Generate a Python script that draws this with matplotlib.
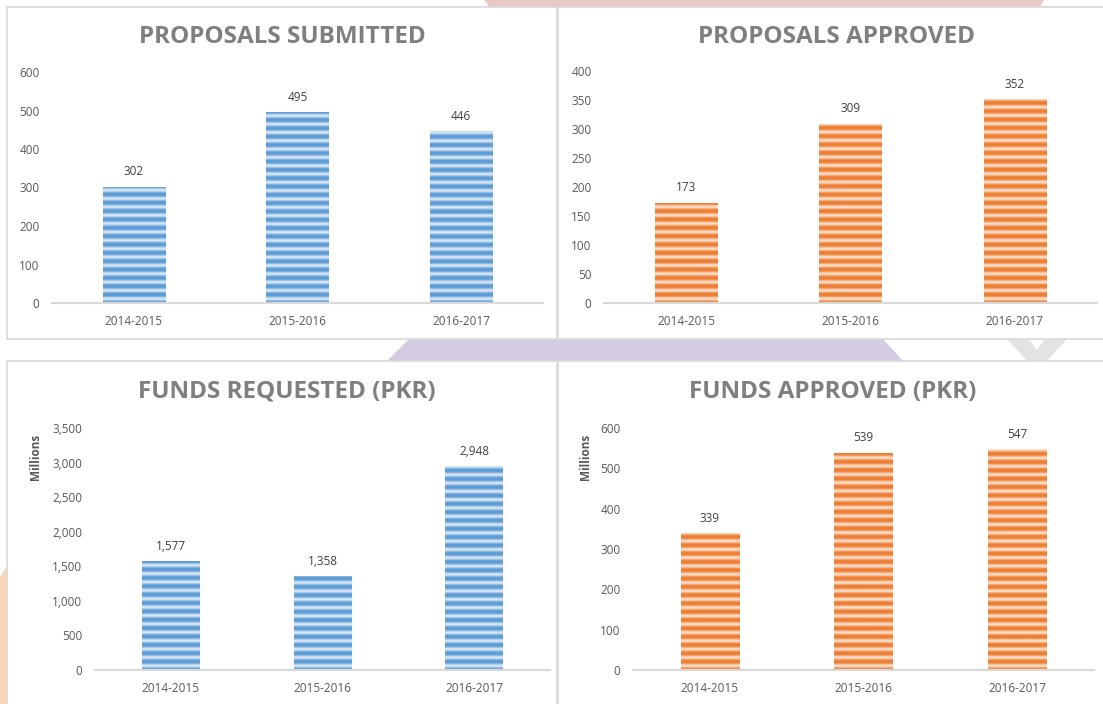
import numpy as np
import matplotlib.pyplot as plt
from matplotlib.colors import to_rgb
from matplotlib.patches import Rectangle, Polygon
from matplotlib.ticker import FuncFormatter, MultipleLocator

years = ['2014-2015', '2015-2016', '2016-2017']
proposals_submitted = [302, 495, 446]
proposals_approved = [173, 309, 352]
funds_requested = [1577, 1358, 2948]   # PKR millions
funds_approved = [339, 539, 547]       # PKR millions

W, H = 1103, 704
fig = plt.figure(figsize=(W / 100, H / 100), dpi=100)
fig.patch.set_facecolor('white')

FONT = ['Open Sans', 'DejaVu Sans']
BLUE = ('#5b9bd5', '#dde9f6')
ORANGE = ('#ed7d31', '#fbe1cf')


def px(x, y):
    # pixel coords (from top-left) -> figure fraction
    return x / W, 1 - y / H


def poly(points, color):
    fig.patches.append(Polygon([px(x, y) for x, y in points], closed=True,
                               transform=fig.transFigure, facecolor=color,
                               edgecolor='none', zorder=-3))


# background decoration peeking between the panels
poly([(484, 0), (1044, 0), (1038, 10), (492, 10)], '#e9c9c8')
poly([(410, 338), (882, 338), (904, 362), (386, 362)], '#d3cce3')
poly([(1006, 338), (1028, 338), (1037, 350), (1046, 338), (1068, 338),
      (1046, 362), (1028, 362)], '#e3e3e3')
poly([(0, 577), (7, 566), (7, 704), (0, 704)], '#f9d6b8')


def panel(x0, y0, x1, y1):
    (fx0, fy1), (fx1, fy0) = px(x0, y0), px(x1, y1)
    fig.patches.append(Rectangle((fx0, fy0), fx1 - fx0, fy1 - fy0,
                                 transform=fig.transFigure, facecolor='white',
                                 edgecolor='#d9d9d9', lw=1.2, zorder=-2))


panel(7, 7, 557, 339)
panel(558, 7, 1110, 339)
panel(7, 361, 557, 712)
panel(558, 361, 1110, 712)


def stripes(ax, bars, colors, period=8.3):
    dark = np.array(to_rgb(colors[0]))
    light = np.array(to_rgb(colors[1]))
    ylo, yhi = ax.get_ylim()
    h_px = ax.get_position().height * H
    rows = int(h_px * 6)
    t = np.arange(rows) / rows * h_px / period
    v = (0.5 - 0.5 * np.cos(2 * np.pi * t)) ** 1.6
    img = dark + (light - dark) * v[:, None]
    img = img[:, None, :]
    for b in bars:
        x0 = b.get_x()
        im = ax.imshow(img, extent=(x0, x0 + b.get_width(), ylo, yhi),
                       origin='lower', aspect='auto', interpolation='bilinear',
                       zorder=3)
        im.set_clip_path(b)


def chart(box, values, ymax, step, colors):
    l, t, r, b = box
    fx0, fy1 = px(l, t)
    fx1, fy0 = px(r, b)
    ax = fig.add_axes([fx0, fy0, fx1 - fx0, fy1 - fy0])
    ax.patch.set_visible(False)
    x = np.arange(len(years))
    bars = ax.bar(x, values, width=0.38, color=colors[0], zorder=2)
    ax.set_xlim(-0.5, len(years) - 0.5)
    ax.set_ylim(0, ymax)
    stripes(ax, bars, colors)
    ax.set_xlim(-0.5, len(years) - 0.5)
    ax.set_ylim(0, ymax)
    ax.yaxis.set_major_locator(MultipleLocator(step))
    ax.yaxis.set_major_formatter(FuncFormatter(lambda v, p: f'{v:,.0f}'))
    ax.set_xticks(x, years)
    for s in ['top', 'right', 'left']:
        ax.spines[s].set_visible(False)
    ax.spines['bottom'].set_color('#d9d9d9')
    ax.spines['bottom'].set_linewidth(1.5)
    ax.spines['bottom'].set_zorder(4)
    ax.tick_params(length=0, labelsize=8.5, labelcolor='#595959')
    ax.tick_params(axis='y', pad=9)
    ax.tick_params(axis='x', pad=8.5)
    for lab in ax.get_xticklabels() + ax.get_yticklabels():
        lab.set_family(FONT)
    for bar, v in zip(bars, values):
        ax.annotate(f'{v:,}', (bar.get_x() + bar.get_width() / 2, v),
                    textcoords='offset points', xytext=(0, 6), ha='center',
                    va='bottom', fontsize=8.5, color='#404040', family=FONT)
    return ax


charts = [
    ((52, 72, 543, 303), proposals_submitted, 600, 100, 'PROPOSALS SUBMITTED', BLUE, 282),
    ((604, 71, 1097, 303), proposals_approved, 400, 50, 'PROPOSALS APPROVED', ORANGE, 836),
    ((95, 428, 550, 670), funds_requested, 3500, 500, 'FUNDS REQUESTED (PKR)', BLUE, 287),
    ((633, 428, 1094, 670), funds_approved, 600, 100, 'FUNDS APPROVED (PKR)', ORANGE, 833),
]

for box, vals, ymax, step, title, cols, tx in charts:
    ax = chart(box, vals, ymax, step, cols)
    ty = 37 if box[1] < 200 else 392
    fig.text(*px(tx, ty), title, ha='center', va='center', fontsize=17.5,
             fontweight='bold', color='#7f7f7f', family=FONT)

fig.text(*px(36, 457), 'Millions', rotation=90, ha='center', va='center',
         fontsize=8.5, fontweight='bold', color='#595959', family=FONT)
fig.text(*px(586, 457), 'Millions', rotation=90, ha='center', va='center',
         fontsize=8.5, fontweight='bold', color='#595959', family=FONT)

fig.savefig('out.png', dpi=100)
